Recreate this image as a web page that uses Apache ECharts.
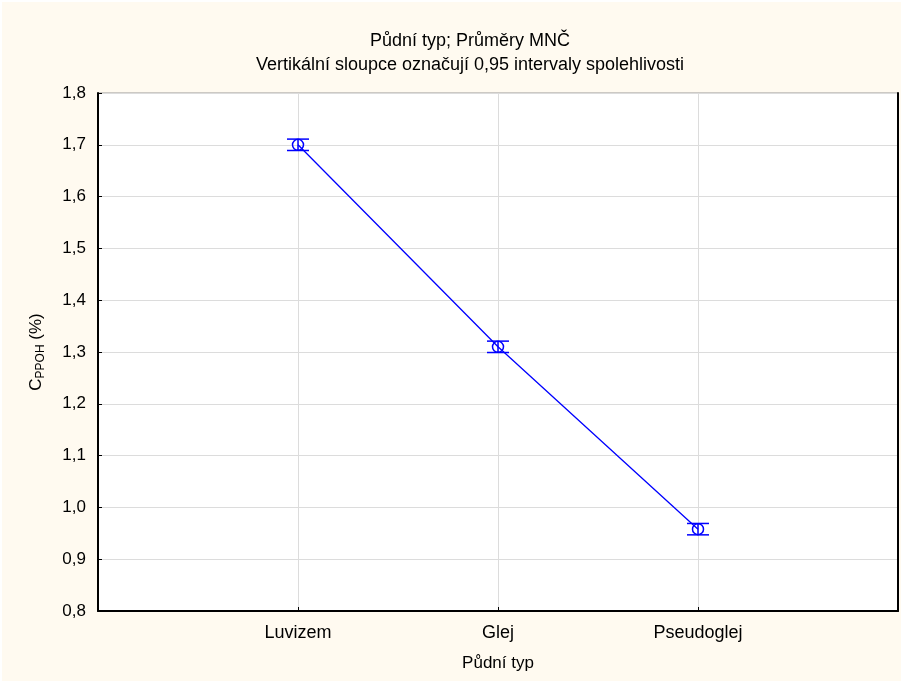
<!DOCTYPE html>
<html>
<head>
<meta charset="utf-8">
<script src="https://cdn.jsdelivr.net/npm/echarts@6/dist/echarts.min.js"></script>
<style>
  html, body { margin: 0; padding: 0; background: #fff; }
  #chart { width: 901px; height: 681px; }
</style>
</head>
<body>
<div id="chart"></div>
<script>
// soil types, LSM means and 0.95 confidence half-widths
var categories = ['Luvizem', 'Glej', 'Pseudoglej'];
var means = [1.70, 1.31, 0.958];
var ciHalf = [0.011, 0.011, 0.011];
var yTicks = [0.8, 0.9, 1.0, 1.1, 1.2, 1.3, 1.4, 1.5, 1.6, 1.7, 1.8];

var FONT = 'Liberation Sans, Arial, sans-serif';
var BLUE = '#0000ff';

var pointData = means.map(function (v, i) { return [i + 1, v]; });
var errData = means.map(function (v, i) { return [i + 1, v - ciHalf[i], v + ciHalf[i]]; });

var chart = echarts.init(document.getElementById('chart'));

var option = {
  backgroundColor: '#ffffff',
  animation: false,
  graphic: [{
    type: 'rect', z: -10, silent: true,
    shape: { x: 2, y: 2, width: 901, height: 681 },
    style: { fill: '#fffaf0' }
  }],
  title: [
    { text: 'Půdní typ; Průměry MNČ', left: 465, top: 27, textAlign: 'center',
      textStyle: { fontFamily: FONT, fontSize: 18, fontWeight: 'normal', color: '#000' } },
    { text: 'Vertikální sloupce označují 0,95 intervaly spolehlivosti', left: 465, top: 51, textAlign: 'center',
      textStyle: { fontFamily: FONT, fontSize: 18, fontWeight: 'normal', color: '#000' } }
  ],
  grid: {
    left: 98, right: 2, top: 93, bottom: 70,
    show: true, backgroundColor: '#ffffff', borderColor: '#999', borderWidth: 1
  },
  xAxis: {
    type: 'value', min: 0, max: 4, interval: 1,
    name: 'Půdní typ', nameLocation: 'middle', nameGap: 44,
    nameTextStyle: { fontFamily: FONT, fontSize: 17, color: '#000' },
    axisLine: { show: true, onZero: false, lineStyle: { color: '#000', width: 2 } },
    axisTick: { show: true, inside: true, length: 4, lineStyle: { color: '#000' } },
    axisLabel: {
      fontFamily: FONT, fontSize: 18, color: '#000', margin: 13,
      formatter: function (v) { return categories[v - 1] || ''; }
    },
    splitLine: { show: true, lineStyle: { color: '#dcdcdc', width: 1 } }
  },
  yAxis: [{
    type: 'value', min: 0.8, max: 1.8, interval: 0.1,
    name: 'C{sub|PPOH} (%)', nameLocation: 'middle', nameGap: 51,
    nameTextStyle: {
      fontFamily: FONT, fontSize: 17, color: '#000', lineHeight: 22,
      rich: { sub: { fontFamily: FONT, fontSize: 12, color: '#000', verticalAlign: 'bottom', lineHeight: 22 } }
    },
    axisLine: { show: true, lineStyle: { color: '#000', width: 2 } },
    axisTick: { show: true, inside: true, length: 4, lineStyle: { color: '#000' } },
    axisLabel: {
      fontFamily: FONT, fontSize: 17, color: '#000', margin: 12,
      formatter: function (v) {
        var t = yTicks.find(function (k) { return Math.abs(k - v) < 1e-6; });
        return t === undefined ? '' : t.toFixed(1).replace('.', ',');
      }
    },
    splitLine: { show: true, lineStyle: { color: '#dcdcdc', width: 1 } }
  }, {
    type: 'value', min: 0.8, max: 1.8, position: 'right',
    axisLine: { show: true, lineStyle: { color: '#000', width: 2 } },
    axisTick: { show: false }, axisLabel: { show: false }, splitLine: { show: false }
  }],
  series: [{
    type: 'line',
    data: pointData,
    symbol: 'circle', symbolSize: 11,
    lineStyle: { color: BLUE, width: 1.3 },
    itemStyle: { color: 'rgba(0,0,0,0)', borderColor: BLUE, borderWidth: 1.5 },
    z: 3
  }, {
    type: 'custom',
    data: errData,
    z: 4,
    renderItem: function (params, api) {
      var x = api.value(0);
      var lo = api.coord([x, api.value(1)]);
      var hi = api.coord([x, api.value(2)]);
      var w = 11;
      var st = { stroke: BLUE, lineWidth: 1.5 };
      return {
        type: 'group',
        children: [
          { type: 'line', shape: { x1: lo[0], y1: lo[1], x2: hi[0], y2: hi[1] }, style: st },
          { type: 'line', shape: { x1: lo[0] - w, y1: lo[1], x2: lo[0] + w, y2: lo[1] }, style: st },
          { type: 'line', shape: { x1: hi[0] - w, y1: hi[1], x2: hi[0] + w, y2: hi[1] }, style: st }
        ]
      };
    }
  }]
};

chart.setOption(option);
</script>
</body>
</html>
